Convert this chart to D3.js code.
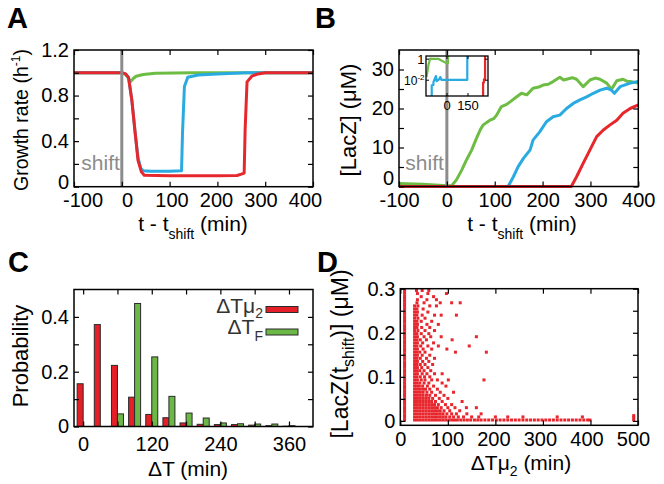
<!DOCTYPE html>
<html>
<head>
<meta charset="utf-8">
<script src="https://cdn.jsdelivr.net/npm/d3@7"></script>
<style>
body { margin: 0; background: #fff; }
</style>
</head>
<body>
<svg id="fig" width="664" height="484"></svg>
<script>
// ---- data ----

// A: growth rate (1/h) vs t - tshift (min)
var growthGreen = [[-100,1],[0,1],[8,0.985],[14,0.95],[18,0.92],[24,0.95],[30,0.97],[45,0.985],[70,0.995],[150,1],[400,1]];
var growthBlue = [[-100,1],[0,1],[8,0.99],[14,0.96],[21,0.76],[28,0.47],[34,0.25],[40,0.16],[45,0.14],[60,0.135],[100,0.135],[125,0.14],[127,0.47],[131,0.88],[138,0.96],[160,0.98],[200,0.99],[260,1],[400,1]];
var growthRed = [[-100,1],[0,1],[8,0.99],[14,0.96],[21,0.76],[28,0.47],[34,0.23],[41,0.13],[47,0.1],[100,0.097],[200,0.097],[241,0.098],[250,0.11],[256,0.12],[258,0.5],[262,0.92],[272,0.97],[285,0.99],[300,1],[400,1]];

// B: [LacZ] (uM) vs t - tshift (min)
var lacGreen = [[-100,0.8],[-50,0.55],[0,0.2],[10,0.2],[20,1.7],[31,4.2],[41,6.8],[52,9.4],[62,12.4],[70,14.6],[76,15.8],[90,17],[98,17.4],[104,18.3],[114,20.5],[124,21],[132,21.7],[146,23],[156,23.9],[167,23.5],[180,25.2],[192,25.5],[201,26],[212,26.2],[222,26.9],[236,28],[244,27.3],[250,27.5],[262,27.9],[271,27.5],[285,25.6],[299,27.3],[310,27.8],[320,27.5],[334,26.5],[344,24.9],[355,27.1],[368,27.5],[376,27],[383,26.9],[400,26.5]];
var lacBlue = [[-100,0],[128,0],[139,2.5],[149,5.1],[160,7.2],[174,9.4],[180,11.9],[194,14],[208,16.6],[222,17.9],[236,18.3],[250,20],[264,21.3],[278,22.2],[292,23],[306,23.9],[320,24.7],[334,25.2],[344,24.7],[350,23.9],[362,25.6],[383,26.5],[400,26.9]];
var lacRed = [[-100,0],[260,0],[271,2.5],[285,6],[299,9.4],[313,12.8],[327,14.5],[341,15.8],[355,17],[368,18.8],[383,20],[400,20.9]];

// B inset (log scale)
var insetGreen = [[-146,0.02],[-132,0.3],[-121,1.1],[-100,1.05],[-60,1.05],[-2,0.4],[6,0.4],[8,3]];
var insetBlue = [[-109,0.0002],[-109,0.0033],[-97,0.0035],[-97,0.0065],[-79,0.025],[-74,0.008],[-57,0.012],[-48,0.02],[-40,0.011],[145,0.011],[145,3]];
var insetRed = [[258,0.0002],[258,0.006],[264,0.006],[264,0.012],[272,0.012],[272,3]];

// C: histograms, 30 min bins
var binCenters = [0,30,60,90,120,150,180,210,240,270,300,330,360];
var probMu2 = [0.156,0.372,0.223,0.107,0.044,0.032,0.013,0.008,0.007,0.007,0.005,0.003,0.001];
var probF = [0,0,0.046,0.449,0.254,0.11,0.049,0.031,0.013,0.01,0.009,0.009,0.003];

// D: scatter, column of cells at dT ~ 9 min
var dColumnY = [0.002,0.008,0.014,0.02,0.026,0.032,0.038,0.044,0.05,0.056,0.062,0.068,0.074,0.08,0.086,0.092,0.098,0.104,0.11,0.116,0.122,0.128,0.134,0.14,0.146,0.152,0.158,0.164,0.17,0.176,0.182,0.188,0.194,0.2,0.206,0.212,0.218,0.224,0.23,0.236,0.242,0.248,0.254,0.26,0.266,0.272,0.278,0.284,0.29,0.296];
// D: rest of the cloud, by rows [LacZ, [dT...]]
var dRows = [
  [0.002,[30,36,42,48,54,60,66,72,78,84,90,96,102,108,114,120,127,134,141,148,156,163,170,178,186,194,202,210,218,226,234,242,250,258,266,274,282,290,298,306,314,322,330,338,346,354,362,370,378,386,394,399]],
  [0.009,[30,36,42,48,54,60,66,72,78,84,90,96,104,112,122,133,150,165,200,226,258,330,383]],
  [0.016,[30,36,42,48,54,60,66,72,78,84,90,98,108,118,140,170]],
  [0.023,[30,36,42,48,54,60,66,72,78,84,92,104,125]],
  [0.030,[30,36,42,48,54,60,66,72,78,86,100,115,139,160]],
  [0.037,[30,36,42,48,54,60,66,72,80,95,108]],
  [0.044,[30,36,42,48,54,60,66,74,88,130]],
  [0.051,[30,36,42,48,54,60,68,82,100]],
  [0.058,[30,36,42,48,55,62,74,92]],
  [0.065,[30,36,42,48,56,66,84,112]],
  [0.072,[30,36,41,47,53,62,78]],
  [0.079,[30,35,40,47,57,70,96]],
  [0.086,[30,35,41,50,60,88]],
  [0.093,[30,36,44,52,66,78,101,176]],
  [0.100,[30,35,42,51,62]],
  [0.107,[30,36,46,56,72,88]],
  [0.114,[30,35,41,50,64]],
  [0.121,[30,36,45,58]],
  [0.128,[30,35,42,52,68]],
  [0.135,[30,36,47,60]],
  [0.142,[30,35,42,55,72]],
  [0.149,[30,36,46,62]],
  [0.156,[30,35,41,52,116,181]],
  [0.163,[30,36,48,66,98]],
  [0.170,[30,35,43,58,80,145]],
  [0.177,[30,36,47,70]],
  [0.184,[30,35,42,55,109]],
  [0.191,[30,36,50,64,86,160]],
  [0.198,[30,35,44,60]],
  [0.205,[30,37,52,72]],
  [0.212,[30,35,45,62]],
  [0.219,[30,36,56,80]],
  [0.226,[30,35,44,66]],
  [0.233,[30,37,52]],
  [0.240,[30,35,46,72,86,118]],
  [0.247,[30,36,58]],
  [0.254,[30,35,48]],
  [0.261,[30,37,62,76]],
  [0.268,[35,50,84,108,126]],
  [0.275,[36,56,76]],
  [0.282,[44,70]],
  [0.289,[36,58,97]],
  [0.296,[34,46,60]]
];
var dLate = [[491,0.002],[491,0.007],[491,0.012]];

// ---- drawing ----
var FONT = '"Liberation Sans", Arial, Helvetica, sans-serif';
var cRed = "#e6282d", cGreen = "#6dbd45", cBlue = "#29abe2", cGray = "#8c8c8c";
var svg = d3.select("#fig").attr("font-family", FONT);

function tickLabel(list) {
  return function(d) { return list.indexOf(d) >= 0 ? String(d) : ""; };
}

function frame(x, y, o) {
  var g = svg.append("g");
  var x0 = x.range()[0], x1 = x.range()[1], yb = y.range()[0], yt = y.range()[1];
  var bottom = g.append("g").attr("transform", "translate(0," + yb + ")")
    .call(d3.axisBottom(x).tickValues(o.xTicks).tickSize(-5).tickPadding(o.xPad).tickFormat(tickLabel(o.xLabels)));
  g.append("g").attr("transform", "translate(0," + yt + ")")
    .call(d3.axisTop(x).tickValues(o.xTicks).tickSize(-5).tickFormat(""));
  var left = g.append("g").attr("transform", "translate(" + x0 + ",0)")
    .call(d3.axisLeft(y).tickValues(o.yTicks).tickSize(-5).tickPadding(5).tickFormat(tickLabel(o.yLabels)));
  g.append("g").attr("transform", "translate(" + x1 + ",0)")
    .call(d3.axisRight(y).tickValues(o.yTicks).tickSize(-5).tickFormat(""));
  g.selectAll(".domain").remove();
  g.selectAll(".tick line").attr("stroke", "#000").attr("stroke-width", 1.2);
  g.selectAll("text").attr("font-family", FONT).attr("font-size", 20).attr("fill", "#000");
  if (o.xLabelAt) {
    bottom.selectAll(".tick text").attr("x", function(d) { return o.xLabelAt(d) - x(d); });
  }
  if (o.zeroLift) {
    left.selectAll(".tick text").attr("y", function(d) { return d === 0 ? -o.zeroLift : 0; });
  }
  g.append("rect").attr("x", x0).attr("y", yt).attr("width", x1 - x0).attr("height", yb - yt)
    .attr("fill", "none").attr("stroke", "#000").attr("stroke-width", 1.5);
  return g;
}

function drawLine(g, x, y, data, color, w) {
  g.append("path").datum(data)
    .attr("d", d3.line().x(function(d) { return x(d[0]); }).y(function(d) { return y(d[1]); }))
    .attr("fill", "none").attr("stroke", color).attr("stroke-width", w || 3)
    .attr("stroke-linejoin", "round");
}

function panelLetter(s, x, y) {
  svg.append("text").attr("x", x).attr("y", y).attr("font-size", 29).attr("font-weight", "bold").text(s);
}

// ---------- A ----------
var xA = d3.scaleLinear().domain([-100, 400]).range([74, 313]);
var yA = d3.scaleLinear().domain([0, 1.2]).range([186.7, 50]);
var gA = svg.append("g");
drawLine(gA, xA, yA, growthGreen, cGreen);
drawLine(gA, xA, yA, growthBlue, cBlue);
drawLine(gA, xA, yA, growthRed, cRed);
gA.append("line").attr("x1", xA(0)).attr("x2", xA(0)).attr("y1", yA.range()[1]).attr("y2", yA.range()[0])
  .attr("stroke", cGray).attr("stroke-width", 3);
gA.append("text").attr("x", xA(0) - 2).attr("y", 170).attr("text-anchor", "end")
  .attr("font-size", 21).attr("fill", cGray).text("shift");
frame(xA, yA, {
  xTicks: [-100, 0, 100, 200, 300, 400], xLabels: [-100, 0, 100, 200, 300, 400], xPad: 6,
  yTicks: [0, 0.2, 0.4, 0.6, 0.8, 1, 1.2], yLabels: [0, 0.4, 0.8, 1.2], zeroLift: 5,
  xLabelAt: d3.scaleLinear().domain([-100, 400]).range([82.5, 305])
});
var tA = svg.append("text").attr("x", 193).attr("y", 230.5).attr("text-anchor", "middle").attr("font-size", 21);
tA.append("tspan").text("t - t");
tA.append("tspan").attr("font-size", 14).attr("dy", 8).text("shift");
tA.append("tspan").attr("dy", -8).text(" (min)");
var lA = svg.append("text").attr("transform", "translate(28,120) rotate(-90)").attr("text-anchor", "middle").attr("font-size", 19.5);
lA.append("tspan").text("Growth rate (h");
lA.append("tspan").attr("font-size", 12).attr("dy", -8).text("-1");
lA.append("tspan").attr("dy", 8).text(")");
panelLetter("A", 7, 28);

// ---------- B ----------
var xB = d3.scaleLinear().domain([-100, 400]).range([399, 638.3]);
var yB = d3.scaleLinear().domain([0, 35]).range([186.5, 50]);
var gB = svg.append("g");
drawLine(gB, xB, yB, lacGreen, cGreen);
drawLine(gB, xB, yB, lacBlue, cBlue);
drawLine(gB, xB, yB, lacRed, cRed);
gB.append("line").attr("x1", xB(0)).attr("x2", xB(0)).attr("y1", yB.range()[1]).attr("y2", yB.range()[0])
  .attr("stroke", cGray).attr("stroke-width", 3);
gB.append("text").attr("x", xB(0) - 3).attr("y", 170).attr("text-anchor", "end")
  .attr("font-size", 21).attr("fill", cGray).text("shift");
frame(xB, yB, {
  xTicks: [-100, 0, 100, 200, 300, 400], xLabels: [-100, 0, 100, 200, 300, 400], xPad: 6,
  yTicks: [0, 5, 10, 15, 20, 25, 30], yLabels: [0, 10, 20, 30], zeroLift: 8
});
var tB = svg.append("text").attr("x", 522).attr("y", 230.5).attr("text-anchor", "middle").attr("font-size", 21);
tB.append("tspan").text("t - t");
tB.append("tspan").attr("font-size", 14).attr("dy", 8).text("shift");
tB.append("tspan").attr("dy", -8).text(" (min)");
svg.append("text").attr("transform", "translate(356,120) rotate(-90)").attr("text-anchor", "middle")
  .attr("font-size", 22).text("[LacZ] (\u03bcM)");
panelLetter("B", 315, 28);

// inset
var xI = d3.scaleLinear().domain([-150, 293]).range([426, 488]);
var yI = d3.scaleLog().domain([Math.pow(10, -3.5), Math.pow(10, 0.3)]).range([96, 56]);
var gI = svg.append("g");
gI.append("rect").attr("x", 426).attr("y", 56).attr("width", 62).attr("height", 40).attr("fill", "#fff");
gI.append("clipPath").attr("id", "clipI").append("rect").attr("x", 426).attr("y", 56).attr("width", 62).attr("height", 40);
var gIc = gI.append("g").attr("clip-path", "url(#clipI)");
gIc.append("line").attr("x1", xI(0)).attr("x2", xI(0)).attr("y1", 56).attr("y2", 96).attr("stroke", cGray).attr("stroke-width", 3);
drawLine(gIc, xI, yI, insetGreen, cGreen, 2.2);
drawLine(gIc, xI, yI, insetBlue, cBlue, 2.2);
drawLine(gIc, xI, yI, insetRed, cRed, 2.2);
[1, 0.01].forEach(function(v) {
  gI.append("line").attr("x1", 426).attr("x2", 429).attr("y1", yI(v)).attr("y2", yI(v)).attr("stroke", "#000");
  gI.append("line").attr("x1", 485).attr("x2", 488).attr("y1", yI(v)).attr("y2", yI(v)).attr("stroke", "#000");
});
[0, 150].forEach(function(v) {
  gI.append("line").attr("x1", xI(v)).attr("x2", xI(v)).attr("y1", 93).attr("y2", 96).attr("stroke", "#000");
  gI.append("line").attr("x1", xI(v)).attr("x2", xI(v)).attr("y1", 56).attr("y2", 59).attr("stroke", "#000");
  gI.append("text").attr("x", xI(v)).attr("y", 110).attr("text-anchor", "middle").attr("font-size", 13).text(String(v));
});
gI.append("rect").attr("x", 426).attr("y", 56).attr("width", 62).attr("height", 40)
  .attr("fill", "none").attr("stroke", "#000").attr("stroke-width", 1.3);
gI.append("text").attr("x", 424.5).attr("y", yI(1) + 4.5).attr("text-anchor", "end").attr("font-size", 13).text("1");
var ten = gI.append("text").attr("x", 424.5).attr("y", yI(0.01) + 5).attr("text-anchor", "end").attr("font-size", 12);
ten.append("tspan").text("10");
ten.append("tspan").attr("font-size", 8).attr("dy", -5).text("-2");

// ---------- C ----------
var xC = d3.scaleLinear().domain([-16, 402]).range([74, 313]);
var yC = d3.scaleLinear().domain([0, 0.5]).range([426.5, 289.5]);
var bw = (xC(30) - xC(0)) * 0.35;
var gC = svg.append("g");
gC.selectAll("rect.mu").data(binCenters).enter().append("rect")
  .attr("x", function(d) { return xC(d) - bw; })
  .attr("y", function(d, i) { return yC(probMu2[i]); })
  .attr("width", bw)
  .attr("height", function(d, i) { return yC(0) - yC(probMu2[i]); })
  .attr("fill", "#e41f27").attr("stroke", "#2a2a2a").attr("stroke-width", 1);
gC.selectAll("rect.f").data(binCenters).enter().append("rect")
  .attr("x", function(d) { return xC(d); })
  .attr("y", function(d, i) { return yC(probF[i]); })
  .attr("width", bw)
  .attr("height", function(d, i) { return yC(0) - yC(probF[i]); })
  .attr("fill", "#6cb847").attr("stroke", "#2a2a2a").attr("stroke-width", 1);
frame(xC, yC, {
  xTicks: [0, 60, 120, 180, 240, 300, 360], xLabels: [0, 120, 240, 360], xPad: 10,
  yTicks: [0, 0.1, 0.2, 0.3, 0.4], yLabels: [0, 0.2, 0.4]
});
// legend
var lg1 = svg.append("text").attr("x", 263).attr("y", 313).attr("text-anchor", "end").attr("font-size", 21).attr("fill", "#333");
lg1.append("tspan").text("\u0394T\u03bc");
lg1.append("tspan").attr("font-size", 14).attr("dy", 5).text("2");
svg.append("rect").attr("x", 266).attr("y", 306.5).attr("width", 32).attr("height", 6)
  .attr("fill", "#e41f27").attr("stroke", "#2a2a2a");
var lg2 = svg.append("text").attr("x", 263).attr("y", 334).attr("text-anchor", "end").attr("font-size", 21).attr("fill", "#333");
lg2.append("tspan").text("\u0394T");
lg2.append("tspan").attr("font-size", 14).attr("dy", 7).text("F");
svg.append("rect").attr("x", 266).attr("y", 329).attr("width", 32).attr("height", 6)
  .attr("fill", "#6cb847").attr("stroke", "#2a2a2a");
svg.append("text").attr("x", 188).attr("y", 476).attr("text-anchor", "middle").attr("font-size", 21).text("\u0394T (min)");
svg.append("text").attr("transform", "translate(28,356) rotate(-90)").attr("text-anchor", "middle")
  .attr("font-size", 22).text("Probability");
panelLetter("C", 8, 272);

// ---------- D ----------
var xD = d3.scaleLinear().domain([0, 500]).range([400.3, 638]);
var yD = d3.scaleLinear().domain([-0.01, 0.3]).range([425.3, 288.7]);
var dPoints = [];
dColumnY.forEach(function(v) { dPoints.push([9, v]); });
dRows.forEach(function(r) { r[1].forEach(function(v) { dPoints.push([v, r[0]]); }); });
dLate.forEach(function(p) { dPoints.push(p); });
var gD = svg.append("g");
gD.selectAll("rect").data(dPoints).enter().append("rect")
  .attr("x", function(d) { return xD(d[0]) - 1.5; })
  .attr("y", function(d) { return yD(d[1]) - 1.5; })
  .attr("width", 3).attr("height", 3).attr("fill", "#e8262e");
frame(xD, yD, {
  xTicks: [0, 100, 200, 300, 400, 500], xLabels: [0, 100, 200, 300, 400, 500], xPad: 7,
  yTicks: [0, 0.05, 0.1, 0.15, 0.2, 0.25, 0.3], yLabels: [0, 0.1, 0.2, 0.3],
  xLabelAt: d3.scaleLinear().domain([0, 500]).range([400.3, 633])
});
var tD = svg.append("text").attr("x", 521).attr("y", 470).attr("text-anchor", "middle").attr("font-size", 21);
tD.append("tspan").text("\u0394T\u03bc");
tD.append("tspan").attr("font-size", 14).attr("dy", 6).text("2");
tD.append("tspan").attr("dy", -6).text(" (min)");
var lD = svg.append("text").attr("transform", "translate(348,354) rotate(-90)").attr("text-anchor", "middle").attr("font-size", 23);
lD.append("tspan").text("[LacZ(t");
lD.append("tspan").attr("font-size", 16).attr("dy", 6).text("shift");
lD.append("tspan").attr("dy", -6).text(")] (\u03bcM)");
panelLetter("D", 317, 272);
</script>
</body>
</html>
